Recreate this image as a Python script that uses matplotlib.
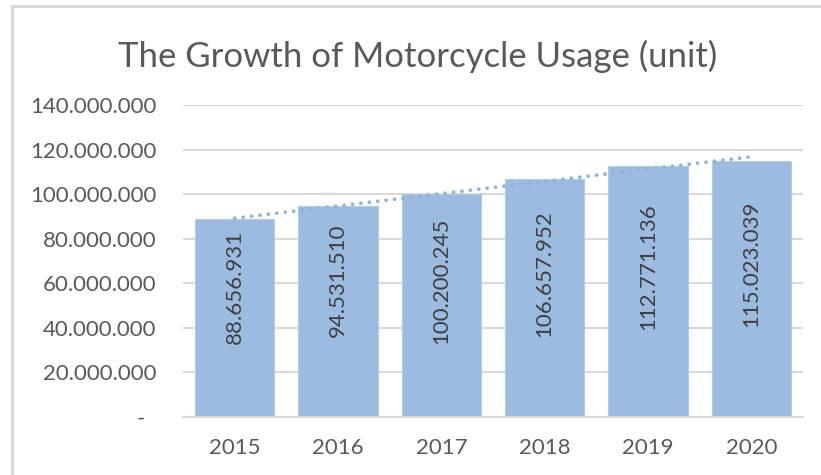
import matplotlib
matplotlib.use("Agg")
import matplotlib.pyplot as plt
import numpy as np
from matplotlib.patches import Rectangle
from matplotlib.ticker import FuncFormatter, MultipleLocator

years = ["2015", "2016", "2017", "2018", "2019", "2020"]
values = [88656931, 94531510, 100200245, 106657952, 112771136, 115023039]
title = "The Growth of Motorcycle Usage (unit)"

plt.rcParams['font.family'] = ['Lato', 'DejaVu Sans']

W, H = 821, 475
fig = plt.figure(figsize=(W / 100, H / 100), dpi=100)
fig.patch.set_facecolor("white")

# outer chart frame (only top and left visible)
fig.add_artist(Rectangle((11.5 / W, -0.1), 1.2, 1 - 5.5 / H + 0.1,
                         transform=fig.transFigure, fill=False,
                         edgecolor="#D9D9D9", linewidth=2.2))

ax = fig.add_axes([183 / W, 1 - 417 / H, (803 - 183) / W, (417 - 105) / H])
x = np.arange(len(years))
ax.bar(x, values, width=0.77, color="#9BBBE0", edgecolor="#B3CBE8",
       linewidth=0.8, zorder=2)

# linear trendline
coef = np.polyfit(x + 1, values, 1)
trend = np.polyval(coef, x + 1)
ax.plot(x, trend, color="#8FB1DB", linewidth=2.7,
        linestyle=(0, (0.01, 2.25)), dash_capstyle="round", zorder=3)

ax.set_xlim(-0.5, len(years) - 0.5)
ax.set_ylim(0, 140000000)
ax.yaxis.set_major_locator(MultipleLocator(20000000))


def fmt(v, pos):
    if abs(v) < 1:
        return "-  "
    return f"{int(round(v)):,}".replace(",", ".")


ax.yaxis.set_major_formatter(FuncFormatter(fmt))
ax.set_xticks(x)
ax.set_xticklabels(years)
ax.grid(axis="y", color="#D9D9D9", linewidth=1.5, zorder=0)
ax.set_axisbelow(True)
for s in ["top", "right", "left"]:
    ax.spines[s].set_visible(False)
ax.spines["bottom"].set_color("#D9D9D9")
ax.spines["bottom"].set_linewidth(1.5)
ax.tick_params(axis="both", length=0, colors="#595959", labelsize=16)
ax.tick_params(axis="y", pad=19)
ax.tick_params(axis="x", pad=15)

for xi, v in zip(x, values):
    ax.annotate(fmt(v, None), xy=(xi, v / 2), xytext=(0, 88),
                textcoords="offset pixels", rotation=90,
                ha="center", va="top", fontsize=16, color="#404040",
                zorder=4)

fig.text(418 / W, 1 - 67 / H, title, ha="center", va="baseline",
         fontsize=25, color="#595959")

fig.savefig("out.png", dpi=100, facecolor="white")
